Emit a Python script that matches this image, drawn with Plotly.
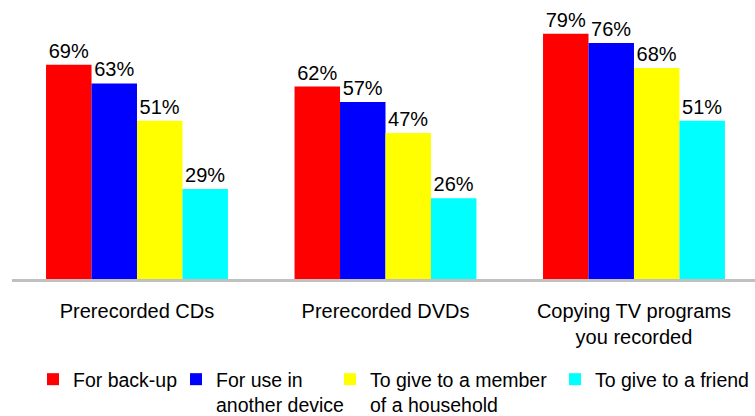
import plotly.graph_objects as go

categories = ["Prerecorded CDs", "Prerecorded DVDs", "Copying TV programs<br>you recorded"]
series_names = ["For back-up", "For use in<br>another device", "To give to a member<br>of a household", "To give to a friend"]
series_values = [
    [69, 62, 79],
    [63, 57, 76],
    [51, 47, 68],
    [29, 26, 51],
]
colors = ["#ff0000", "#0000ff", "#ffff00", "#00ffff"]

W, H = 755, 416
L, R, T, B = 12, 0, 10, 136.5
pw = W - L - R
ph = H - T - B

FONT = "Liberation Sans, Arial, sans-serif"

fig = go.Figure()
legend_px = [33, 176, 330, 555]
legend_ids = ["legend", "legend2", "legend3", "legend4"]
for name, vals, col, lid in zip(series_names, series_values, colors, legend_ids):
    fig.add_trace(go.Bar(
        x=categories, y=vals, name=name,
        marker=dict(color=col, line=dict(width=0)),
        text=[f"{v}%" for v in vals], textposition="outside",
        constraintext="none",
        textfont=dict(size=20, color="black", family=FONT),
        cliponaxis=False, legend=lid,
    ))

layout_legends = {}
leg_top_px = 360
for lid, px in zip(legend_ids, legend_px):
    layout_legends[lid] = dict(
        xref="container", yref="container",
        x=px / W, xanchor="left", y=1 - leg_top_px / H, yanchor="top",
        font=dict(size=19.5, color="black", family=FONT),
        bgcolor="rgba(0,0,0,0)", borderwidth=0, valign="top",
    )

fig.update_layout(
    width=W, height=H,
    margin=dict(l=L, r=R, t=T, b=B, pad=0, autoexpand=False),
    paper_bgcolor="white", plot_bgcolor="white",
    barmode="group", bargap=0.268, bargroupgap=0,
    font=dict(family=FONT, size=20, color="black"),
    showlegend=True,
    xaxis=dict(
        range=[-0.503, 2.487], showline=True, linecolor="#c0c0c0", linewidth=3,
        ticks="", showgrid=False, zeroline=False, automargin=False,
        ticklabelstandoff=12,
        tickfont=dict(size=20, color="black", family=FONT),
    ),
    yaxis=dict(range=[0, 86.66], visible=False, showgrid=False, zeroline=False),
    **layout_legends,
)

fig.write_html("out.html")
